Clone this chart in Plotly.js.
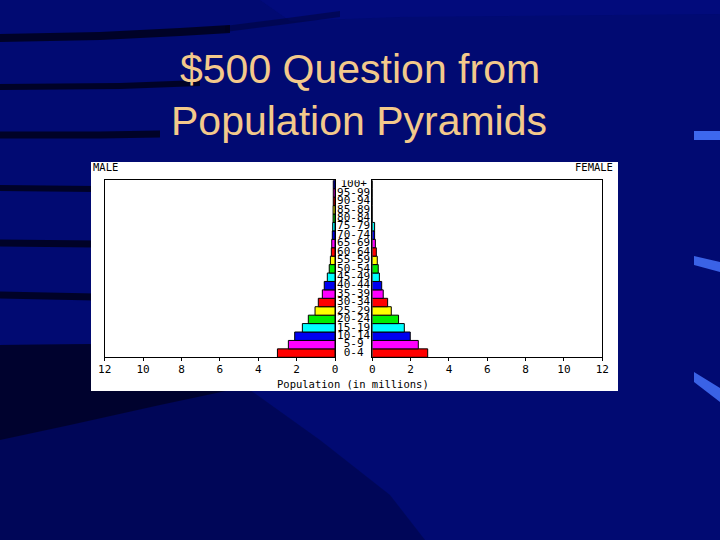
<!DOCTYPE html>
<html><head><meta charset="utf-8">
<script src="https://cdn.plot.ly/plotly-3.0.1.min.js"></script>
<style>html,body{margin:0;padding:0;background:#010a72;} #chart{width:720px;height:540px;}</style>
</head><body><div id="chart"></div><script>
// ---- data ----
const ages = ['0-4','5-9','10-14','15-19','20-24','25-29','30-34','35-39','40-44','45-49','50-54','55-59','60-64','65-69','70-74','75-79','80-84','85-89','90-94','95-99','100+'];
const male = [3.0, 2.43, 2.1, 1.7, 1.39, 1.04, 0.87, 0.66, 0.56, 0.40, 0.30, 0.24, 0.19, 0.17, 0.14, 0.12, 0.1, 0.1, 0.09, 0.09, 0.09];
const female = [2.89, 2.40, 1.98, 1.67, 1.37, 0.99, 0.80, 0.57, 0.49, 0.37, 0.31, 0.26, 0.21, 0.16, 0.12, 0.12, 0, 0, 0, 0, 0];
const tickVals = [0, 2, 4, 6, 8, 10, 12];
const titleLines = ['$500 Question from', 'Population Pyramids'];
const axisTitle = 'Population (in millions)';
const leftLabel = 'MALE', rightLabel = 'FEMALE';

// ---- style ----
const palette = ['#ff0000', '#ff00ff', '#0000f0', '#00ffff', '#00ee00', '#ffff00'];
const barColors = ages.map((a, i) => palette[i % palette.length]);
const W = 720, H = 540;
const px = x => x / W, py = y => 1 - y / H;
const mono = 'DejaVu Sans Mono, monospace';

function band(pts, t) {
  const top = pts.map(p => `${px(p[0])},${py(p[1] - t / 2)}`);
  const bot = pts.slice().reverse().map(p => `${px(p[0])},${py(p[1] + t / 2)}`);
  return 'M' + top.join(' L') + ' L' + bot.join(' L') + ' Z';
}
function poly(pts) {
  return 'M' + pts.map(p => `${px(p[0])},${py(p[1])}`).join(' L') + ' Z';
}
const dark = 'rgba(0,0,18,0.78)';
const faint = 'rgba(0,0,25,0.35)';
const shapes = [
  {type: 'path', path: poly([[260,0],[720,0],[720,14],[400,17],[290,21]]), fillcolor: 'rgba(10,20,160,0.22)', line: {width: 0}},
  {type: 'path', path: band([[0,38],[100,36],[180,32],[230,29]], 8), fillcolor: dark, line: {width: 0}},
  {type: 'path', path: band([[225,29],[280,22],[340,14]], 6), fillcolor: faint, line: {width: 0}},
  {type: 'path', path: band([[0,87],[120,86],[200,83]], 6), fillcolor: dark, line: {width: 0}},
  {type: 'path', path: band([[0,135],[100,135],[160,134]], 7), fillcolor: dark, line: {width: 0}},
  {type: 'path', path: band([[0,188],[95,189]], 6), fillcolor: dark, line: {width: 0}},
  {type: 'path', path: band([[0,243],[95,244]], 7), fillcolor: dark, line: {width: 0}},
  {type: 'path', path: band([[0,295],[95,297]], 7), fillcolor: dark, line: {width: 0}},
  {type: 'path', path: poly([[0,345],[90,344],[180,360],[250,390],[320,440],[390,495],[425,540],[0,540]]), fillcolor: 'rgba(0,0,30,0.3)', line: {width: 0}},
  {type: 'path', path: poly([[0,345],[90,344],[180,360],[240,388],[160,405],[70,425],[0,440]]), fillcolor: 'rgba(0,0,12,0.55)', line: {width: 0}},
  {type: 'path', path: poly([[694,131],[720,131],[720,140],[694,140]]), fillcolor: '#3d68ee', line: {width: 0}},
  {type: 'path', path: poly([[694,256],[720,262],[720,272],[694,265]]), fillcolor: '#3a62e6', line: {width: 0}},
  {type: 'path', path: poly([[694,372],[720,388],[720,402],[694,382]]), fillcolor: '#3a62e6', line: {width: 0}},
  {type: 'rect', x0: px(91), x1: px(618), y0: py(391), y1: py(162), fillcolor: '#ffffff', line: {width: 0}}
];

const traces = [
  {type: 'bar', orientation: 'h', x: male, y: ages, xaxis: 'x', yaxis: 'y',
   marker: {color: barColors, line: {color: '#000000', width: 1}}, hoverinfo: 'skip'},
  {type: 'bar', orientation: 'h', x: female, y: ages, xaxis: 'x2', yaxis: 'y2',
   marker: {color: barColors, line: {color: '#000000', width: 1}}, hoverinfo: 'skip'},
  {type: 'scatter', mode: 'text', x: ages.map(() => 0), y: ages, text: ages, xaxis: 'x3', yaxis: 'y3',
   textposition: 'middle center', textfont: {family: mono, size: 11, color: '#000000'}, hoverinfo: 'skip'}
];

const yDom = [py(357.3), py(180.3)];
const xCommon = {tickvals: tickVals, ticktext: tickVals.map(String), ticks: 'outside', ticklen: 3, tickcolor: '#000',
  ticklabelstandoff: -2,
  showline: true, linecolor: '#000', linewidth: 1, mirror: true, showgrid: false, zeroline: false,
  tickfont: {family: mono, size: 11, color: '#000'}, fixedrange: true};
const yCommon = {type: 'category', categoryorder: 'array', categoryarray: ages, range: [-0.5, ages.length - 0.5],
  showticklabels: false, ticks: '', showline: true, linecolor: '#000', linewidth: 1, mirror: true,
  showgrid: false, zeroline: false, domain: yDom, fixedrange: true};

const titleFont = {family: 'Liberation Sans, Arial, sans-serif', size: 41, color: '#f3c98b'};
const annotations = [
  {text: titleLines[0], x: px(360), y: py(69), xref: 'paper', yref: 'paper', showarrow: false, xanchor: 'center', yanchor: 'middle', font: titleFont},
  {text: titleLines[1], x: px(359), y: py(121), xref: 'paper', yref: 'paper', showarrow: false, xanchor: 'center', yanchor: 'middle', font: titleFont},
  {text: leftLabel, x: px(91), y: py(166.5), xref: 'paper', yref: 'paper', showarrow: false, xanchor: 'left', yanchor: 'middle',
   font: {family: mono, size: 10.5, color: '#000'}},
  {text: rightLabel, x: px(615), y: py(166.5), xref: 'paper', yref: 'paper', showarrow: false, xanchor: 'right', yanchor: 'middle',
   font: {family: mono, size: 10.5, color: '#000'}},
  {text: axisTitle, x: px(353), y: py(383.5), xref: 'paper', yref: 'paper', showarrow: false, xanchor: 'center', yanchor: 'middle',
   font: {family: mono, size: 10.5, color: '#000'}}
];

const layout = {
  width: W, height: H, margin: {l: 0, r: 0, t: 0, b: 0, pad: 0},
  paper_bgcolor: '#010a72', plot_bgcolor: '#ffffff', showlegend: false, bargap: 0,
  xaxis: Object.assign({}, xCommon, {domain: [px(104.7), px(335)], range: [12, 0], anchor: 'y'}),
  yaxis: Object.assign({}, yCommon, {anchor: 'x'}),
  xaxis2: Object.assign({}, xCommon, {domain: [px(372.3), px(602.3)], range: [0, 12], anchor: 'y2'}),
  yaxis2: Object.assign({}, yCommon, {anchor: 'x2'}),
  xaxis3: {domain: [px(335), px(372.3)], range: [-1, 1], visible: false, anchor: 'y3', fixedrange: true},
  yaxis3: Object.assign({}, yCommon, {anchor: 'x3', visible: false, showline: false}),
  shapes: shapes.map(s => Object.assign({xref: 'paper', yref: 'paper', layer: 'below'}, s)),
  annotations: annotations
};
Plotly.newPlot('chart', traces, layout, {displayModeBar: false, staticPlot: true});
</script></body></html>
